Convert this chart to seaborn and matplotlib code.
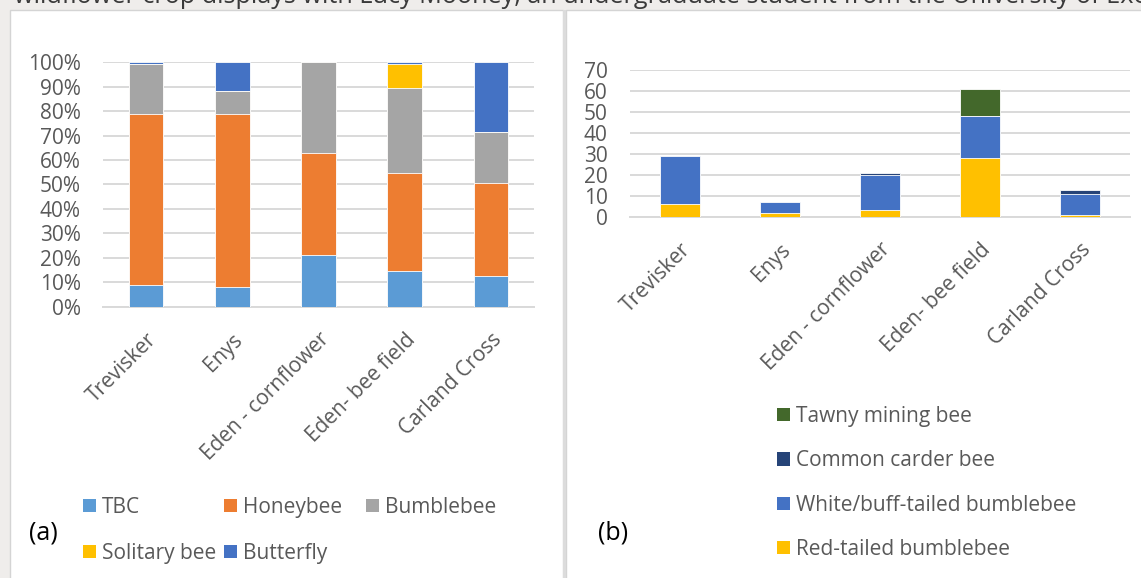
import numpy as np
import pandas as pd
import matplotlib
matplotlib.use('Agg')
import matplotlib.pyplot as plt
import seaborn as sns
from matplotlib.patches import Patch, Rectangle
from matplotlib.ticker import FuncFormatter, MultipleLocator

sites = ['Trevisker', 'Enys', 'Eden - cornflower', 'Eden- bee field', 'Carland Cross']

# panel (a): share of visits (%) per group
groups_a = ['TBC', 'Honeybee', 'Bumblebee', 'Solitary bee', 'Butterfly']
tbc = [9.0, 8.0, 21.0, 14.5, 12.7]
honeybee = [70.0, 71.0, 42.0, 40.1, 38.1]
bumblebee = [20.3, 9.3, 37.0, 35.0, 20.7]
solitary = [0.0, 0.0, 0.0, 9.6, 0.0]
butterfly = [0.7, 11.7, 0.0, 0.8, 28.5]
colors_a = ['#5b9bd5', '#ed7d31', '#a5a5a5', '#ffc000', '#4472c4']

# panel (b): counts per bee species
groups_b = ['Red-tailed bumblebee', 'White/buff-tailed bumblebee', 'Common carder bee', 'Tawny mining bee']
red_tailed = [6, 2, 3, 28, 1]
white_buff = [23, 5, 17, 20, 10]
carder = [0, 0, 1, 0, 2]
tawny = [0, 0, 0, 13, 0]
colors_b = ['#ffc000', '#4472c4', '#264478', '#43682b']

title_text = 'wildflower crop displays with Lucy Mooney, an undergraduate student from the University of Exeter'

W, H = 1141, 578
GRID = '#d9d9d9'
TXT = '#595959'
FS = 15

sns.set_style('white')
plt.rcParams['font.family'] = ['Open Sans', 'DejaVu Sans']


def stacked(ax, layers, colors):
    cum = np.cumsum(np.array(layers, dtype=float), axis=0)
    # draw the running totals from the top down so each layer shows its own segment
    for i in range(len(layers) - 1, -1, -1):
        df = pd.DataFrame({'site': sites, 'value': cum[i]})
        sns.barplot(data=df, x='site', y='value', order=sites, color=colors[i],
                    saturation=1, width=0.4, errorbar=None, edgecolor='white',
                    linewidth=0.6, zorder=3, ax=ax)


def style_axes(ax):
    ax.set_xlabel('')
    ax.set_ylabel('')
    for s in ['top', 'right', 'left']:
        ax.spines[s].set_visible(False)
    ax.spines['bottom'].set_color(GRID)
    ax.spines['bottom'].set_linewidth(1.4)
    ax.yaxis.grid(True, color=GRID, linewidth=1.4)
    ax.set_axisbelow(True)
    ax.set_facecolor('none')
    ax.tick_params(axis='y', length=0, pad=16, labelsize=FS, labelcolor=TXT)
    ax.tick_params(axis='x', length=0, pad=16, labelsize=FS, labelcolor=TXT)
    ax.set_xticks(range(len(sites)))
    ax.set_xticklabels(sites, rotation=45, ha='right', rotation_mode='anchor')
    ax.set_xlim(-0.5, len(sites) - 0.5)


fig = plt.figure(figsize=(W / 100, H / 100), dpi=100)
fig.patch.set_facecolor('#efedeb')

# panel backgrounds
fig.patches.append(Rectangle((10 / W, -0.01), (563 - 10) / W, 1.01 - 10 / H,
                             transform=fig.transFigure, facecolor='white',
                             edgecolor='#d4d4d4', linewidth=1, zorder=-10))
fig.patches.append(Rectangle((566 / W, -0.01), 1.01 - 566 / W, 1.01 - 10 / H,
                             transform=fig.transFigure, facecolor='white',
                             edgecolor='#d4d4d4', linewidth=1, zorder=-10))
fig.patches.append(Rectangle((563 / W, -0.01), 3 / W, 1.01 - 10 / H,
                             transform=fig.transFigure, facecolor='#dcdcdc',
                             edgecolor='none', zorder=-10))

fig.text(14 / W, 1 - 3 / H, title_text, fontsize=18.2, color='#3a3a3a', va='baseline', ha='left')

# (a)
ax1 = fig.add_axes([103 / W, 1 - 306.7 / H, 431 / W, 244.4 / H])
stacked(ax1, [tbc, honeybee, bumblebee, solitary, butterfly], colors_a)
style_axes(ax1)
ax1.set_ylim(0, 100)
ax1.yaxis.set_major_locator(MultipleLocator(10))
ax1.yaxis.set_major_formatter(FuncFormatter(lambda v, p: f'{v:.0f}%'))

# (b)
ax2 = fig.add_axes([630 / W, 1 - 216.7 / H, 500 / W, 146.4 / H])
stacked(ax2, [red_tailed, white_buff, carder, tawny], colors_b)
style_axes(ax2)
ax2.set_ylim(0, 70)
ax2.yaxis.set_major_locator(MultipleLocator(10))

leg_kw = dict(loc='upper left', frameon=False, borderpad=0, borderaxespad=0,
              handlelength=0.62, handleheight=0.62, handletextpad=0.3,
              labelspacing=1.2, fontsize=FS, labelcolor=TXT)

# legend (a): three columns laid out like the original
cols_a = [[0, 3], [1, 4], [2]]
col_x = [83, 224, 366]
for x0, idx in zip(col_x, cols_a):
    fig.legend(handles=[Patch(facecolor=colors_a[i], edgecolor='none') for i in idx],
               labels=[groups_a[i] for i in idx],
               bbox_to_anchor=(x0 / W, 1 - 497 / H), **leg_kw)

# legend (b): reversed order
order_b = [3, 2, 1, 0]
fig.legend(handles=[Patch(facecolor=colors_b[i], edgecolor='none') for i in order_b],
           labels=[groups_b[i] for i in order_b],
           bbox_to_anchor=(777 / W, 1 - 406 / H), **dict(leg_kw, labelspacing=1.12))

fig.text(29 / W, 1 - 533 / H, '(a)', fontsize=18, color='black', va='center', ha='left')
fig.text(598 / W, 1 - 533 / H, '(b)', fontsize=18, color='black', va='center', ha='left')

fig.savefig('out.png', dpi=100, facecolor=fig.get_facecolor())
